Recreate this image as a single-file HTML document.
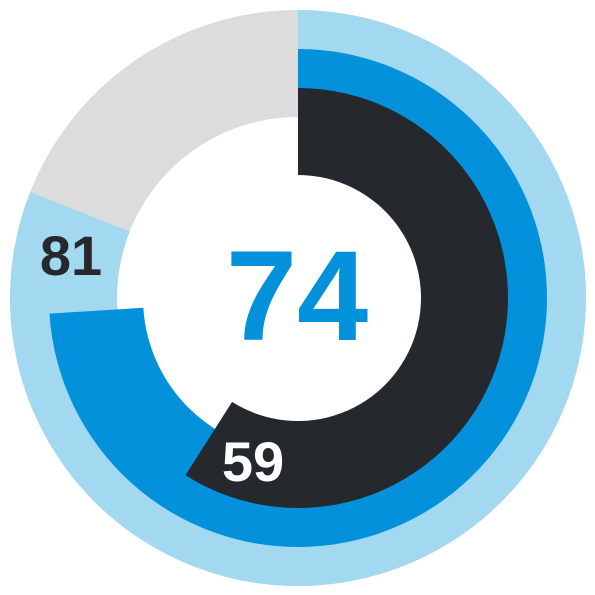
<!DOCTYPE html>
<html><head><meta charset="utf-8"><style>
html,body{margin:0;padding:0;background:#fff;width:595px;height:595px;overflow:hidden}
</style></head><body>
<svg id="chart" width="595" height="595" viewBox="0 0 595 595" xmlns="http://www.w3.org/2000/svg" font-family="'Liberation Sans', sans-serif">
<g id="rings"></g>
<text id="centerLabel" x="297" y="340" text-anchor="middle" font-size="128" font-weight="bold" fill="#0391db"></text>
</svg>
<script>
const seriesNames = ["outer", "middle", "inner"];
const seriesValues = [81, 74, 59];
const centerValue = 74;
const cx = 298, cy = 298;
const radii = [[181, 288], [155, 249], [123, 210]];
const colors = ["#a2d9f1", "#0391db", "#25292d"];
const NS = "http://www.w3.org/2000/svg";
const g = document.getElementById("rings");
function pt(r, a){ return [cx + r*Math.sin(a), cy - r*Math.cos(a)]; }
function arc(r0, r1, v){
  const a = v/100*2*Math.PI, large = a > Math.PI ? 1 : 0;
  const [x1,y1]=pt(r1,0),[x2,y2]=pt(r1,a),[x3,y3]=pt(r0,a),[x4,y4]=pt(r0,0);
  return `M${x1},${y1}A${r1},${r1} 0 ${large} 1 ${x2},${y2}L${x3},${y3}A${r0},${r0} 0 ${large} 0 ${x4},${y4}Z`;
}
const bg = document.createElementNS(NS, "path");
bg.setAttribute("d", arc(radii[0][0], radii[0][1], 99.999));
bg.setAttribute("fill", "#dcdcdc");


g.appendChild(bg);
seriesValues.forEach((v, i) => {
  const p = document.createElementNS(NS, "path");
  p.setAttribute("d", arc(radii[i][0], radii[i][1], v));
  p.setAttribute("fill", colors[i]);
  
  
  g.appendChild(p);
});
const labelIdx = [0, 2];
const labelPos = [[71, 275, "#25292d"], [253, 481, "#ffffff"]];
labelIdx.forEach((si, k) => {
  const t = document.createElementNS(NS, "text");
  t.setAttribute("x", labelPos[k][0]); t.setAttribute("y", labelPos[k][1]);
  t.setAttribute("text-anchor", "middle"); t.setAttribute("font-size", "56");
  t.setAttribute("font-weight", "bold"); t.setAttribute("fill", labelPos[k][2]);
  t.textContent = seriesValues[si];
  
  
  document.getElementById("chart").appendChild(t);
});
document.getElementById("centerLabel").textContent = centerValue;
</script>
</body></html>
